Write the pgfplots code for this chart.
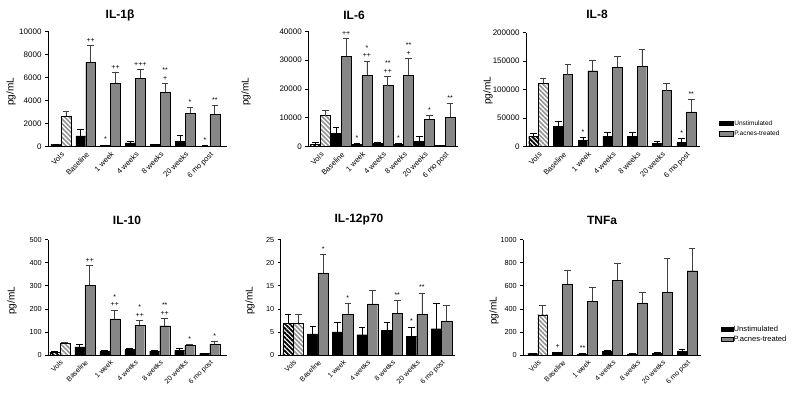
\documentclass[border=0pt]{standalone}
\usepackage{fontspec}
\setmainfont{Liberation Sans}
\usepackage{pgfplots}
\usepackage{pgfplotstable}
\pgfplotsset{compat=1.18}
\usetikzlibrary{patterns.meta}
\definecolor{barg}{HTML}{868686}

\pgfplotstableread{
x u ue t te
0 150 60 2650 380
1 930 600 7330 1420
2 110 40 5510 940
3 340 110 5930 740
4 180 40 4700 790
5 490 510 2900 480
6 60 30 2820 760
}\ILone
\pgfplotstableread{
x u ue t te
0 930 460 10780 1970
1 4640 1960 31300 6150
2 810 350 24700 4980
3 1040 350 21200 3150
4 810 230 24700 5900
5 1740 1860 9500 1280
6 350 230 10200 4870
}\ILsix
\pgfplotstableread{
x u ue t te
0 18500 4700 111300 8700
1 35900 9300 126400 18500
2 11000 5200 133300 17400
3 18000 7500 139100 19200
4 18500 5800 140900 29500
5 6400 2300 98500 13400
6 7500 6400 60900 22000
}\ILeight
\pgfplotstableread{
x u ue t te
0 11 3 50 7
1 35 13 303 86
2 17 2 157 38
3 23 4 129 21
4 17 2 127 31
5 19 10 42 4
6 7 2 48 10
}\ILten
\pgfplotstableread{
x u ue t te
0 6.9 2.0 6.9 1.9
1 4.6 1.7 17.8 4.0
2 5.0 2.1 8.8 2.3
3 4.4 1.6 11.1 3.0
4 5.3 1.8 9.0 2.8
5 4.0 2.1 8.8 4.6
6 5.7 5.6 7.4 3.4
}\ILtwelve
\pgfplotstableread{
x u ue t te
0 9 3 347 87
1 23 3 616 115
2 9 3 465 125
3 32 11 650 145
4 9 2 451 92
5 14 6 543 295
6 32 17 731 194
}\TNF

\newcommand{\ann}[3]{\node[anchor=south, font=\fontsize{7}{7.5}\selectfont, align=center, inner sep=0pt, yshift=3pt] at (axis cs:#1,#2) {#3};}

\pgfplotsset{
  cyto/.style={
    scale only axis, anchor=south west, ymin=0, clip=false,
    axis x line*=bottom, axis y line*=left,
    axis line style={black, line width=0.7pt, -},
    xtick={0,...,6},
    xticklabels={Vols,Baseline,1 week,4 weeks,8 weeks,20 weeks,6 mo post},
    xtick style={draw=none},
    ytick style={black, line width=0.7pt},
    tick align=outside, major tick length=3pt,
    xticklabel style={rotate=45, anchor=north east, inner sep=1pt},
    /pgf/number format/assume math mode=true,
    /pgf/number format/fixed,
    /pgf/number format/1000 sep={},
    scaled y ticks=false,
    error bars/y dir=plus, error bars/y explicit,
  },
  row1/.style={xticklabel style={font=\fontsize{7.5}{8}\selectfont}, yticklabel style={font=\fontsize{8}{9}\selectfont}},
  row2/.style={xticklabel style={font=\fontsize{7}{8}\selectfont}, yticklabel style={font=\fontsize{7.3}{8}\selectfont}},
  ubar/.style={ybar, bar shift=0pt, fill=black, draw=black, line width=0.4pt,
     error bars/error bar style={black, line width=0.7pt},
     error bars/error mark options={black, line width=0.7pt, mark size=3.3pt, rotate=90},
     legend image code/.code={\draw[fill=black,draw=black] (0pt,-2.3pt) rectangle (14pt,2.3pt);}},
  tbar/.style={ybar, bar shift=0pt, fill=barg, draw=black, line width=0.4pt,
     error bars/error bar style={black!75, line width=0.7pt},
     error bars/error mark options={black!75, line width=0.7pt, mark size=3.3pt, rotate=90},
     legend image code/.code={\draw[fill=barg,draw=black] (0pt,-2.3pt) rectangle (14pt,2.3pt);}},
  uvol/.style={ybar, bar shift=0pt, fill=white, draw=black, line width=0.4pt,
     error bars/error bar style={black, line width=0.7pt},
     error bars/error mark options={black, line width=0.7pt, mark size=3.3pt, rotate=90},
     postaction={pattern={Lines[angle=-45,distance=3.2pt,line width=1.8pt]}, pattern color=black}},
  tvol/.style={ybar, bar shift=0pt, fill=white, draw=black, line width=0.4pt,
     error bars/error bar style={black!75, line width=0.7pt},
     error bars/error mark options={black!75, line width=0.7pt, mark size=3.3pt, rotate=90},
     postaction={pattern={Lines[angle=-45,distance=3.2pt,line width=1.6pt]}, pattern color=gray!85}},
}

\begin{document}
\begin{tikzpicture}
\useasboundingbox (0pt,0pt) rectangle (800pt,401pt);

% ---------- IL-1beta ----------
\begin{axis}[cyto, row1, at={(48pt,254.3pt)}, width=179pt, height=115.4pt,
  xmin=-0.52, xmax=6.69, ymax=10000, ytick={0,2000,...,10000}, bar width=0.40]
\addplot[ubar, skip coords between index={0}{1}] table[x expr=\thisrow{x}-0.2, y=u, y error=ue] \ILone;
\addplot[tbar, skip coords between index={0}{1}] table[x expr=\thisrow{x}+0.2, y=t, y error=te] \ILone;
\addplot[uvol, skip coords between index={1}{7}] table[x expr=\thisrow{x}-0.2, y=u, y error=ue] \ILone;
\addplot[tvol, skip coords between index={1}{7}] table[x expr=\thisrow{x}+0.2, y=t, y error=te] \ILone;
\ann{1.2}{8750}{++}
\ann{1.8}{150}{*}
\ann{2.2}{6450}{++}
\ann{3.2}{6670}{+++}
\ann{4.2}{5490}{**\\+}
\ann{5.2}{3380}{*}
\ann{5.8}{90}{*}
\ann{6.2}{3580}{**}
\end{axis}

% ---------- IL-6 ----------
\begin{axis}[cyto, row1, at={(308.3pt,254.3pt)}, width=150pt, height=115.4pt,
  xmin=-0.58, xmax=6.63, ymax=40000, ytick={0,10000,...,40000}, bar width=0.48]
\addplot[ubar, skip coords between index={0}{1}] table[x expr=\thisrow{x}-0.24, y=u, y error=ue] \ILsix;
\addplot[tbar, skip coords between index={0}{1}] table[x expr=\thisrow{x}+0.24, y=t, y error=te] \ILsix;
\addplot[uvol, skip coords between index={1}{7}] table[x expr=\thisrow{x}-0.24, y=u, y error=ue] \ILsix;
\addplot[tvol, skip coords between index={1}{7}] table[x expr=\thisrow{x}+0.24, y=t, y error=te] \ILsix;
\ann{1.24}{37450}{++}
\ann{1.76}{1160}{*}
\ann{2.24}{29680}{*\\++}
\ann{3.24}{24350}{**\\++}
\ann{3.76}{1040}{*}
\ann{4.24}{30600}{**\\+}
\ann{5.24}{10780}{*}
\ann{6.24}{15070}{**}
\end{axis}

% ---------- IL-8 ----------
\begin{axis}[cyto, row1, at={(526pt,254.3pt)}, width=174pt, height=114pt,
  xmin=-0.5, xmax=6.55, ymax=200000, ytick={0,50000,...,200000}, bar width=0.39,
  legend style={draw=none, fill=none, at={(axis description cs:1.11,0.16)}, anchor=west,
    inner sep=0pt, row sep=2.5pt, font=\fontsize{6.5}{7}\selectfont,
    nodes={inner sep=0.6pt, text height=5pt, text depth=1.5pt}},
  legend cell align=left]
\addplot[ubar, skip coords between index={0}{1}] table[x expr=\thisrow{x}-0.195, y=u, y error=ue] \ILeight;
\addlegendentry{Unstimulated}
\addplot[tbar, skip coords between index={0}{1}] table[x expr=\thisrow{x}+0.195, y=t, y error=te] \ILeight;
\addlegendentry{P.acnes-treated}
\addplot[uvol, forget plot, skip coords between index={1}{7}] table[x expr=\thisrow{x}-0.195, y=u, y error=ue] \ILeight;
\addplot[tvol, forget plot, skip coords between index={1}{7}] table[x expr=\thisrow{x}+0.195, y=t, y error=te] \ILeight;
\ann{1.805}{16200}{*}
\ann{5.805}{13900}{*}
\ann{6.195}{82900}{**}
\end{axis}

% ---------- IL-10 ----------
\begin{axis}[cyto, row2, at={(48.3pt,46pt)}, width=178.4pt, height=115.3pt,
  xmin=-0.46, xmax=6.68, ymax=500, ytick={0,100,...,500}, bar width=0.40]
\addplot[ubar, skip coords between index={0}{1}] table[x expr=\thisrow{x}-0.2, y=u, y error=ue] \ILten;
\addplot[tbar, skip coords between index={0}{1}] table[x expr=\thisrow{x}+0.2, y=t, y error=te] \ILten;
\addplot[uvol, skip coords between index={1}{7}] table[x expr=\thisrow{x}-0.2, y=u, y error=ue] \ILten;
\addplot[tvol, skip coords between index={1}{7}] table[x expr=\thisrow{x}+0.2, y=t, y error=te] \ILten;
\ann{1.2}{389}{++}
\ann{2.2}{195}{*\\++}
\ann{3.2}{150}{*\\++}
\ann{4.2}{158}{**\\++}
\ann{5.2}{46}{*}
\ann{6.2}{58}{*}
\end{axis}

% ---------- IL-12p70 ----------
\begin{axis}[cyto, row2, at={(280.7pt,46pt)}, width=174.3pt, height=115.3pt,
  xmin=-0.51, xmax=6.55, ymax=25, ytick={0,5,...,25}, bar width=0.42]
\addplot[ubar, skip coords between index={0}{1}] table[x expr=\thisrow{x}-0.21, y=u, y error=ue] \ILtwelve;
\addplot[tbar, skip coords between index={0}{1}] table[x expr=\thisrow{x}+0.21, y=t, y error=te] \ILtwelve;
\addplot[uvol, skip coords between index={1}{7}] table[x expr=\thisrow{x}-0.21, y=u, y error=ue] \ILtwelve;
\addplot[tvol, skip coords between index={1}{7}] table[x expr=\thisrow{x}+0.21, y=t, y error=te] \ILtwelve;
\ann{1.21}{21.8}{*}
\ann{2.21}{11.1}{*}
\ann{4.21}{11.8}{**}
\ann{4.79}{6.1}{*}
\ann{5.21}{13.4}{**}
\end{axis}

% ---------- TNFa ----------
\begin{axis}[cyto, row2, at={(523.3pt,46pt)}, width=177.7pt, height=115.3pt,
  xmin=-0.58, xmax=6.56, ymax=1000, ytick={0,200,...,1000}, bar width=0.40,
  legend style={draw=none, fill=none, at={(axis description cs:1.11,0.18)}, anchor=west,
    inner sep=0pt, row sep=0.8pt, font=\fontsize{7.6}{9}\selectfont,
    nodes={inner sep=0.6pt, text height=6pt, text depth=1.7pt}},
  legend cell align=left]
\addplot[ubar, skip coords between index={0}{1}, legend image code/.code={\draw[fill=black,draw=black] (0pt,-2.1pt) rectangle (12pt,2.1pt);}] table[x expr=\thisrow{x}-0.2, y=u, y error=ue] \TNF;
\addlegendentry{Unstimulated}
\addplot[tbar, skip coords between index={0}{1}, legend image code/.code={\draw[fill=barg,draw=black] (0pt,-2.1pt) rectangle (12pt,2.1pt);}] table[x expr=\thisrow{x}+0.2, y=t, y error=te] \TNF;
\addlegendentry{P.acnes-treated}
\addplot[uvol, forget plot, skip coords between index={1}{7}] table[x expr=\thisrow{x}-0.2, y=u, y error=ue] \TNF;
\addplot[tvol, forget plot, skip coords between index={1}{7}] table[x expr=\thisrow{x}+0.2, y=t, y error=te] \TNF;
\ann{0.8}{26}{+}
\ann{1.8}{12}{**}
\end{axis}

% ---------- titles and axis labels ----------
\begin{scope}[every node/.style={font=\bfseries\fontsize{12}{12}\selectfont}]
\node at (120pt,386pt) {IL-1β};
\node at (354pt,386pt) {IL-6};
\node at (597pt,387pt) {IL-8};
\node at (127pt,180.5pt) {IL-10};
\node at (359pt,181pt) {IL-12p70};
\node at (602pt,181pt) {TNFa};
\end{scope}
\begin{scope}[every node/.style={rotate=90, font=\fontsize{10}{10}\selectfont}]
\node at (11pt,309pt) {pg/mL};
\node at (246pt,309pt) {pg/mL};
\node at (488pt,310pt) {pg/mL};
\node at (12pt,100pt) {pg/mL};
\node at (250pt,100pt) {pg/mL};
\node at (494pt,90pt) {pg/mL};
\end{scope}
\end{tikzpicture}
\end{document}
